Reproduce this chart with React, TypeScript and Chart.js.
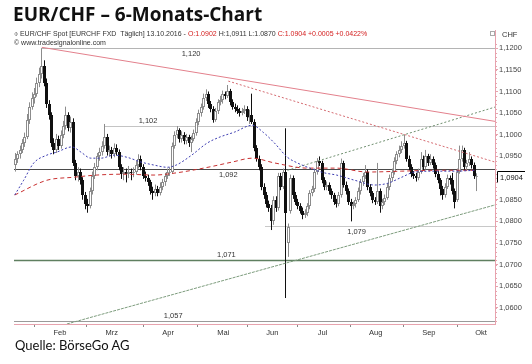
import React, { useEffect, useRef } from 'react';
import { Chart, registerables } from 'chart.js';

Chart.register(...registerables);

// Daily candles [open, high, low, close], one array per month (trading days)
const janCandles = [
  [1.0930, 1.0958, 1.0915, 1.0945], [1.0945, 1.0962, 1.0935, 1.0955], [1.0955, 1.0975, 1.0945, 1.0965],
  [1.0965, 1.0990, 1.0958, 1.0980], [1.0980, 1.1005, 1.0972, 1.0995], [1.0995, 1.1048, 1.0990, 1.1035],
  [1.1035, 1.1075, 1.1025, 1.1065], [1.1065, 1.1098, 1.1058, 1.1085],
];
const febCandles = [
  [1.1085, 1.1108, 1.1072, 1.1095], [1.1095, 1.1132, 1.1088, 1.1120], [1.1120, 1.1155, 1.1110, 1.1140],
  [1.1140, 1.1200, 1.1130, 1.1160], [1.1160, 1.1172, 1.1112, 1.1120], [1.1120, 1.1130, 1.1062, 1.1070],
  [1.1070, 1.1080, 1.1035, 1.1045], [1.1045, 1.1052, 1.0972, 1.0980], [1.0980, 1.0992, 1.0955, 1.0965],
  [1.0965, 1.1002, 1.0958, 1.0990], [1.0990, 1.0998, 1.0965, 1.0975], [1.0975, 1.1010, 1.0968, 1.1000],
  [1.1000, 1.1032, 1.0992, 1.1020], [1.1020, 1.1065, 1.1012, 1.1045], [1.1045, 1.1052, 1.1008, 1.1015],
  [1.1015, 1.1042, 1.1005, 1.1030], [1.1030, 1.1038, 1.0928, 1.0935], [1.0935, 1.0942, 1.0895, 1.0905],
  [1.0905, 1.0925, 1.0892, 1.0915], [1.0915, 1.0922, 1.0885, 1.0895], [1.0895, 1.0902, 1.0850, 1.0860],
];
const marCandles = [
  [1.0860, 1.0868, 1.0828, 1.0840], [1.0840, 1.0852, 1.0820, 1.0835], [1.0835, 1.0878, 1.0830, 1.0870],
  [1.0870, 1.0915, 1.0862, 1.0905], [1.0905, 1.0935, 1.0898, 1.0925], [1.0925, 1.0958, 1.0918, 1.0950],
  [1.0950, 1.0970, 1.0940, 1.0960], [1.0960, 1.0985, 1.0952, 1.0975], [1.0975, 1.1025, 1.0968, 1.0995],
  [1.0995, 1.1002, 1.0952, 1.0960], [1.0960, 1.0975, 1.0950, 1.0965], [1.0965, 1.0972, 1.0945, 1.0955],
  [1.0955, 1.0980, 1.0948, 1.0970], [1.0970, 1.0978, 1.0952, 1.0960], [1.0960, 1.0966, 1.0918, 1.0925],
  [1.0925, 1.0932, 1.0898, 1.0910], [1.0910, 1.0925, 1.0895, 1.0915], [1.0915, 1.0922, 1.0890, 1.0910],
  [1.0910, 1.0928, 1.0900, 1.0915], [1.0915, 1.0922, 1.0895, 1.0912], [1.0912, 1.0925, 1.0902, 1.0915],
  [1.0915, 1.0940, 1.0908, 1.0930], [1.0930, 1.0955, 1.0922, 1.0945],
];
const aprCandles = [
  [1.0945, 1.0952, 1.0918, 1.0925], [1.0925, 1.0932, 1.0898, 1.0905], [1.0905, 1.0915, 1.0892, 1.0900],
  [1.0900, 1.0908, 1.0882, 1.0890], [1.0890, 1.0896, 1.0862, 1.0870], [1.0870, 1.0880, 1.0850, 1.0865],
  [1.0865, 1.0885, 1.0858, 1.0875], [1.0875, 1.0882, 1.0858, 1.0865], [1.0865, 1.0890, 1.0860, 1.0880],
  [1.0880, 1.0898, 1.0872, 1.0890], [1.0890, 1.0912, 1.0882, 1.0905], [1.0905, 1.0922, 1.0898, 1.0915],
  [1.0915, 1.0925, 1.0905, 1.0915], [1.0915, 1.0982, 1.0910, 1.0975], [1.0975, 1.1008, 1.0968, 1.1000],
  [1.1000, 1.1020, 1.0992, 1.1010], [1.1010, 1.1015, 1.0982, 1.0990], [1.0990, 1.1008, 1.0982, 1.1000],
  [1.1000, 1.1006, 1.0978, 1.0985], [1.0985, 1.1002, 1.0978, 1.0995], [1.0995, 1.1000, 1.0972, 1.0980],
];
const mayCandles = [
  [1.0980, 1.0998, 1.0960, 1.0990], [1.0990, 1.1012, 1.0985, 1.1005], [1.1005, 1.1038, 1.0998, 1.1030],
  [1.1030, 1.1058, 1.1022, 1.1050], [1.1050, 1.1072, 1.1042, 1.1065], [1.1065, 1.1095, 1.1058, 1.1085],
  [1.1085, 1.1105, 1.1078, 1.1095], [1.1095, 1.1100, 1.1062, 1.1070], [1.1070, 1.1078, 1.1052, 1.1060],
  [1.1060, 1.1066, 1.1028, 1.1035], [1.1035, 1.1062, 1.1030, 1.1055], [1.1055, 1.1082, 1.1048, 1.1075],
  [1.1075, 1.1090, 1.1068, 1.1080], [1.1080, 1.1102, 1.1072, 1.1095], [1.1095, 1.1100, 1.1082, 1.1090],
  [1.1090, 1.1115, 1.1085, 1.1100], [1.1100, 1.1106, 1.1068, 1.1075], [1.1075, 1.1082, 1.1058, 1.1065],
  [1.1065, 1.1072, 1.1052, 1.1060], [1.1060, 1.1068, 1.1048, 1.1055], [1.1055, 1.1062, 1.1042, 1.1050],
  [1.1050, 1.1062, 1.1045, 1.1055],
];
const junCandles = [
  [1.1055, 1.1068, 1.1048, 1.1060], [1.1060, 1.1066, 1.1032, 1.1040], [1.1040, 1.1058, 1.1025, 1.1040],
  [1.1045, 1.1095, 1.1025, 1.1030], [1.1030, 1.1036, 1.0962, 1.0970], [1.0970, 1.0976, 1.0938, 1.0945],
  [1.0945, 1.0952, 1.0918, 1.0925], [1.0925, 1.0932, 1.0872, 1.0880], [1.0880, 1.0888, 1.0852, 1.0860],
  [1.0860, 1.0868, 1.0832, 1.0840], [1.0840, 1.0848, 1.0822, 1.0830], [1.0830, 1.0838, 1.0780, 1.0800],
  [1.0800, 1.0858, 1.0792, 1.0850], [1.0850, 1.0858, 1.0822, 1.0830], [1.0830, 1.0912, 1.0825, 1.0905],
  [1.0905, 1.0912, 1.0872, 1.0880], [1.0880, 1.0922, 1.0875, 1.0915], [1.0915, 1.1015, 1.0623, 1.0820],
  [1.0750, 1.0795, 1.0718, 1.0787], [1.0825, 1.0908, 1.0818, 1.0900], [1.0900, 1.0906, 1.0852, 1.0860],
  [1.0860, 1.0868, 1.0838, 1.0845],
];
const julCandles = [
  [1.0845, 1.0852, 1.0828, 1.0835], [1.0835, 1.0842, 1.0818, 1.0825], [1.0825, 1.0832, 1.0805, 1.0815],
  [1.0815, 1.0828, 1.0808, 1.0820], [1.0820, 1.0842, 1.0812, 1.0835], [1.0835, 1.0872, 1.0828, 1.0865],
  [1.0865, 1.0882, 1.0858, 1.0875], [1.0875, 1.0922, 1.0868, 1.0915], [1.0915, 1.0946, 1.0908, 1.0940],
  [1.0940, 1.0950, 1.0928, 1.0935], [1.0935, 1.0940, 1.0888, 1.0895], [1.0895, 1.0902, 1.0872, 1.0880],
  [1.0880, 1.0892, 1.0872, 1.0885], [1.0885, 1.0890, 1.0862, 1.0870], [1.0870, 1.0876, 1.0852, 1.0860],
  [1.0860, 1.0866, 1.0838, 1.0845], [1.0845, 1.0852, 1.0832, 1.0840], [1.0840, 1.0868, 1.0835, 1.0860],
  [1.0860, 1.0945, 1.0855, 1.0935], [1.0935, 1.0940, 1.0878, 1.0885], [1.0885, 1.0892, 1.0862, 1.0870],
];
const augCandles = [
  [1.0870, 1.0876, 1.0838, 1.0845], [1.0845, 1.0852, 1.0800, 1.0835], [1.0835, 1.0846, 1.0828, 1.0840],
  [1.0840, 1.0856, 1.0832, 1.0850], [1.0850, 1.0878, 1.0845, 1.0870], [1.0870, 1.0898, 1.0862, 1.0890],
  [1.0890, 1.0912, 1.0882, 1.0905], [1.0905, 1.0930, 1.0898, 1.0915], [1.0915, 1.0920, 1.0872, 1.0880],
  [1.0880, 1.0886, 1.0858, 1.0865], [1.0865, 1.0870, 1.0842, 1.0850], [1.0850, 1.0856, 1.0838, 1.0845],
  [1.0845, 1.0935, 1.0840, 1.0870], [1.0870, 1.0876, 1.0820, 1.0835], [1.0835, 1.0852, 1.0828, 1.0845],
  [1.0845, 1.0862, 1.0838, 1.0855], [1.0855, 1.0888, 1.0850, 1.0880], [1.0880, 1.0908, 1.0872, 1.0900],
  [1.0900, 1.0922, 1.0892, 1.0915], [1.0915, 1.0948, 1.0908, 1.0940], [1.0940, 1.0962, 1.0932, 1.0955],
  [1.0955, 1.0975, 1.0948, 1.0965], [1.0965, 1.0985, 1.0958, 1.0975],
];
const sepCandles = [
  [1.0975, 1.1000, 1.0968, 1.0980], [1.0980, 1.0986, 1.0938, 1.0945], [1.0945, 1.0952, 1.0918, 1.0925],
  [1.0925, 1.0932, 1.0902, 1.0910], [1.0910, 1.0916, 1.0898, 1.0905], [1.0905, 1.0912, 1.0892, 1.0900],
  [1.0900, 1.0922, 1.0895, 1.0915], [1.0915, 1.0960, 1.0910, 1.0945], [1.0945, 1.0952, 1.0918, 1.0925],
  [1.0925, 1.0965, 1.0920, 1.0950], [1.0950, 1.0956, 1.0928, 1.0935], [1.0935, 1.0955, 1.0930, 1.0945],
  [1.0945, 1.0950, 1.0922, 1.0930], [1.0930, 1.0936, 1.0902, 1.0910], [1.0910, 1.0916, 1.0888, 1.0895],
  [1.0895, 1.0900, 1.0860, 1.0875], [1.0875, 1.0882, 1.0850, 1.0860], [1.0860, 1.0888, 1.0855, 1.0880],
  [1.0880, 1.0908, 1.0875, 1.0900], [1.0900, 1.0906, 1.0885, 1.0895], [1.0895, 1.0912, 1.0862, 1.0870],
  [1.0870, 1.0876, 1.0830, 1.0845],
];
const octCandles = [
  [1.0850, 1.0922, 1.0845, 1.0915], [1.0915, 1.0975, 1.0910, 1.0945], [1.0945, 1.0975, 1.0938, 1.0965],
  [1.0965, 1.0970, 1.0918, 1.0925], [1.0925, 1.0942, 1.0918, 1.0935], [1.0935, 1.0960, 1.0928, 1.0945],
  [1.0945, 1.0950, 1.0922, 1.0930], [1.0930, 1.0936, 1.0898, 1.0905], [1.0902, 1.0911, 1.0870, 1.0904],
];

const candles = [
  ...janCandles, ...febCandles, ...marCandles, ...aprCandles, ...mayCandles,
  ...junCandles, ...julCandles, ...augCandles, ...sepCandles, ...octCandles,
];

// Moving averages (trading-day index, value)
const blueMaIdx = [0, 3.7, 7.9, 13.3, 17.4, 23.7, 27.4, 31.5, 35.7, 41.1, 46.5, 52.3, 57.7, 63.1, 66.8, 73, 79.7, 85, 90.9, 98.3, 103, 107.5, 112.9, 117, 121.2, 128.2, 133.2, 140.7, 149, 154.4, 160.2, 165.6, 173.9, 182.2, 190.5];
const blueMaVal = [1.0861, 1.0895, 1.0935, 1.0953, 1.0960, 1.0972, 1.0960, 1.0946, 1.0946, 1.0953, 1.0948, 1.0937, 1.0930, 1.0925, 1.0930, 1.0952, 1.0981, 1.0995, 1.1006, 1.1022, 1.1005, 1.0981, 1.0948, 1.0935, 1.0925, 1.0912, 1.0907, 1.0895, 1.0884, 1.0888, 1.0902, 1.0914, 1.0916, 1.0916, 1.0918];
const redMaIdx = [0, 13.3, 24.5, 34, 45.2, 57.7, 66.8, 80, 90, 98.3, 107.5, 121.2, 133.2, 146, 160.2, 173.9, 190.5];
const redMaVal = [1.0861, 1.0895, 1.0902, 1.0907, 1.0909, 1.0907, 1.0912, 1.0925, 1.0937, 1.0946, 1.0935, 1.0923, 1.0923, 1.0914, 1.0916, 1.0918, 1.0918];

// Trend lines: [startIdx, startVal, endIdx, endVal]
const trendRedSolid = [11.2, 1.1202, 198.8, 1.1031];
const trendRedDotted = [88.4, 1.1124, 198.8, 1.0937];
const trendGreenUpper = [112.9, 1.0918, 198.8, 1.1064];
const trendGreenLower = [21.6, 1.0563, 198.8, 1.0838];

// Horizontal levels
const levelValues = [1.120, 1.102, 1.092, 1.079, 1.071, 1.057];
const levelStartIdx = [11.2, 37, -1, 103.6, -1, -1];
const levelLabelIdx = [73, 55.2, 88.4, 141.5, 87.6, 65.6];
const levelLabelAbove = [false, true, false, false, true, true];
const levelColors = ['#b4b4b4', '#c4c4c4', '#4a4a4a', '#c8c8c8', '#5f7f60', '#9a9a9a'];
const levelWidths = [1, 1, 1, 1, 1.5, 1];

// Axes
const monthLabels = ['Feb', 'Mrz', 'Apr', 'Mai', 'Jun', 'Jul', 'Aug', 'Sep', 'Okt'];
const monthLabelPos = [18.7, 40.2, 63.5, 86.3, 106.6, 127.4, 149.4, 171.4, 193];
const monthBoundaryPos = [8.3, 29.9, 53.1, 75.5, 96.3, 117, 139, 161, 183.4];
const yTickValues = [1.06, 1.065, 1.07, 1.075, 1.08, 1.085, 1.095, 1.1, 1.105, 1.11, 1.115, 1.12];
const yMin = 1.0563;
const yMax = 1.1242;
const xMin = -0.3;
const xMax = 198.8;

const lastClose = 1.0904;

const xTickList = [
  ...monthLabelPos.map((v, i) => ({ value: v, label: monthLabels[i] })),
  ...monthBoundaryPos.map((v) => ({ value: v, label: '' })),
].sort((a, b) => a.value - b.value);

const AXIS_PINK = '#e7a3ae';
const FONT = 'Liberation Sans';

const candlePlugin = {
  id: 'candlesLevels',
  beforeDatasetsDraw(chart: any) {
    const { ctx, chartArea, scales } = chart;
    const xs = scales.x;
    const ys = scales.y;
    ctx.save();
    ctx.beginPath();
    ctx.rect(chartArea.left, chartArea.top, chartArea.right - chartArea.left, chartArea.bottom - chartArea.top);
    ctx.clip();
    // levels
    levelValues.forEach((v, i) => {
      const y = Math.round(ys.getPixelForValue(v)) + 0.5;
      const x0 = levelStartIdx[i] < 0 ? chartArea.left : xs.getPixelForValue(levelStartIdx[i]);
      ctx.strokeStyle = levelColors[i];
      ctx.lineWidth = levelWidths[i];
      ctx.beginPath();
      ctx.moveTo(x0, y);
      ctx.lineTo(chartArea.right, y);
      ctx.stroke();
      ctx.fillStyle = '#333';
      ctx.font = `7.5px "${FONT}"`;
      ctx.textAlign = 'center';
      ctx.textBaseline = 'middle';
      const ly = levelLabelAbove[i] ? y - 6 : y + 5;
      ctx.fillText(v.toFixed(3).replace('.', ','), xs.getPixelForValue(levelLabelIdx[i]), ly);
    });
    // candles
    candles.forEach((c, i) => {
      const [o, h, l, cl] = c;
      const px = Math.round(xs.getPixelForValue(i));
      const up = cl >= o;
      const yH = ys.getPixelForValue(h);
      const yL = ys.getPixelForValue(l);
      const yO = ys.getPixelForValue(o);
      const yC = ys.getPixelForValue(cl);
      const top = Math.round(Math.min(yO, yC));
      const bot = Math.max(Math.round(Math.max(yO, yC)), top + 1);
      ctx.lineWidth = 1;
      ctx.strokeStyle = up ? '#8c8c8c' : '#101010';
      ctx.beginPath();
      ctx.moveTo(px + 0.5, yH);
      ctx.lineTo(px + 0.5, yL);
      ctx.stroke();
      if (up) {
        ctx.fillStyle = '#ffffff';
        ctx.fillRect(px - 1, top, 3, bot - top);
        ctx.strokeStyle = '#8c8c8c';
        ctx.strokeRect(px - 0.5, top + 0.5, 2, Math.max(bot - top - 1, 0));
      } else {
        ctx.fillStyle = '#101010';
        ctx.fillRect(px - 1, top, 3, bot - top);
      }
    });
    ctx.restore();
  },
  afterDraw(chart: any) {
    const { ctx, chartArea, scales } = chart;
    const ys = scales.y;
    ctx.save();
    // minor ticks on the right axis
    ctx.strokeStyle = AXIS_PINK;
    ctx.lineWidth = 1;
    for (let k = 0; k <= 64; k++) {
      const v = 1.057 + k * 0.001;
      if (v > yMax) break;
      const y = Math.round(ys.getPixelForValue(v)) + 0.5;
      ctx.beginPath();
      ctx.moveTo(chartArea.right, y);
      ctx.lineTo(chartArea.right + 2, y);
      ctx.stroke();
    }
    // last price marker
    const y = Math.round(ys.getPixelForValue(lastClose)) + 0.5;
    ctx.strokeStyle = '#000';
    ctx.beginPath();
    ctx.moveTo(chartArea.right + 2.5, y + 6);
    ctx.lineTo(chartArea.right + 2.5, y - 5);
    ctx.lineTo(chartArea.right + 30, y - 5);
    ctx.stroke();
    ctx.fillStyle = '#111';
    ctx.font = `7.5px "${FONT}"`;
    ctx.textAlign = 'left';
    ctx.textBaseline = 'middle';
    ctx.fillText(lastClose.toFixed(4).replace('.', ','), chartArea.right + 5, y + 1);
    ctx.restore();
  },
};

const seg = (t: number[]) => [{ x: t[0], y: t[1] }, { x: t[2], y: t[3] }];

export default function App() {
  const ref = useRef<HTMLCanvasElement>(null);
  useEffect(() => {
    const chart = new Chart(ref.current as HTMLCanvasElement, {
      type: 'line',
      data: {
        datasets: [
          { data: blueMaIdx.map((x, i) => ({ x, y: blueMaVal[i] })), borderColor: '#3b3bb0', borderWidth: 1, borderDash: [2, 2], pointRadius: 0, cubicInterpolationMode: 'monotone' },
          { data: redMaIdx.map((x, i) => ({ x, y: redMaVal[i] })), borderColor: '#c83030', borderWidth: 1, borderDash: [4, 3], pointRadius: 0, cubicInterpolationMode: 'monotone' },
          { data: seg(trendRedSolid), borderColor: '#e3808c', borderWidth: 1, pointRadius: 0 },
          { data: seg(trendRedDotted), borderColor: '#d46a70', borderWidth: 1, borderDash: [2, 2], pointRadius: 0 },
          { data: seg(trendGreenUpper), borderColor: '#6e8e6e', borderWidth: 1, borderDash: [2, 2], pointRadius: 0 },
          { data: seg(trendGreenLower), borderColor: '#7d9c7d', borderWidth: 1, borderDash: [3, 1], pointRadius: 0 },
        ] as any,
      },
      options: {
        responsive: false,
        animation: false,
        devicePixelRatio: 1,
        layout: { padding: { left: 14, top: 30, right: 0, bottom: 0 } },
        plugins: { legend: { display: false }, tooltip: { enabled: false } },
        scales: {
          x: {
            type: 'linear',
            min: xMin,
            max: xMax,
            afterBuildTicks: (s: any) => { s.ticks = xTickList.map((t) => ({ value: t.value })); },
            afterFit: (s: any) => { s.height = 40; },
            ticks: {
              autoSkip: false,
              maxRotation: 0,
              minRotation: 0,
              padding: 1,
              color: '#333',
              font: { family: FONT, size: 7.5 },
              callback: (_v: any, idx: number) => xTickList[idx] ? xTickList[idx].label : '',
            },
            grid: {
              drawOnChartArea: false,
              tickLength: 3,
              color: (c: any) => (xTickList[c.index] && xTickList[c.index].label ? 'rgba(0,0,0,0)' : '#888'),
            },
            border: { color: AXIS_PINK },
          },
          y: {
            position: 'right',
            min: yMin,
            max: yMax,
            afterBuildTicks: (s: any) => { s.ticks = yTickValues.map((v) => ({ value: v })); },
            afterFit: (s: any) => { s.width = 37; },
            ticks: {
              padding: 1,
              color: '#444',
              font: { family: FONT, size: 7.5 },
              callback: (v: any) => Number(v).toFixed(4).replace('.', ','),
            },
            grid: { drawOnChartArea: false, tickLength: 3, color: AXIS_PINK },
            border: { color: AXIS_PINK },
          },
        },
      },
      plugins: [candlePlugin],
    } as any);
    return () => chart.destroy();
  }, []);

  const small: React.CSSProperties = { position: 'absolute', fontFamily: FONT, fontSize: 7, lineHeight: '8px', whiteSpace: 'nowrap', color: '#333' };

  return (
    <div style={{ position: 'fixed', left: 0, top: 0, width: 532, height: 364, background: '#fff', overflow: 'hidden' }}>
      <canvas ref={ref} width={532} height={364} style={{ position: 'absolute', left: 0, top: 0, width: 532, height: 364 }} />
      <div style={{ position: 'absolute', left: 13, top: 1, fontFamily: '"Open Sans"', fontWeight: 700, fontSize: 19, lineHeight: '26px', color: '#111', whiteSpace: 'nowrap' }}>
        EUR/CHF – 6-Monats-Chart
      </div>
      <div style={{ ...small, left: 14, top: 30 }}>
        ⌽ EUR/CHF Spot [EURCHF FXD&nbsp; Täglich] 13.10.2016 - <span style={{ color: '#d42020' }}>O:1.0902</span> H:1,0911 L:1.0870 <span style={{ color: '#d42020' }}>C:1.0904 +0.0005 +0.0422%</span>
      </div>
      <div style={{ ...small, left: 14, top: 39 }}>© www.tradesignalonline.com</div>
      <div style={{ ...small, left: 502, top: 31, fontSize: 7.5 }}>CHF</div>
      <div style={{ position: 'absolute', left: 490, top: 31, width: 3, height: 3, border: '1px solid #aaa' }} />
      <div style={{ position: 'absolute', left: 15, top: 335, fontFamily: 'Lato', fontSize: 13, lineHeight: '20px', color: '#111', whiteSpace: 'nowrap' }}>
        Quelle: BörseGo AG
      </div>
    </div>
  );
}
